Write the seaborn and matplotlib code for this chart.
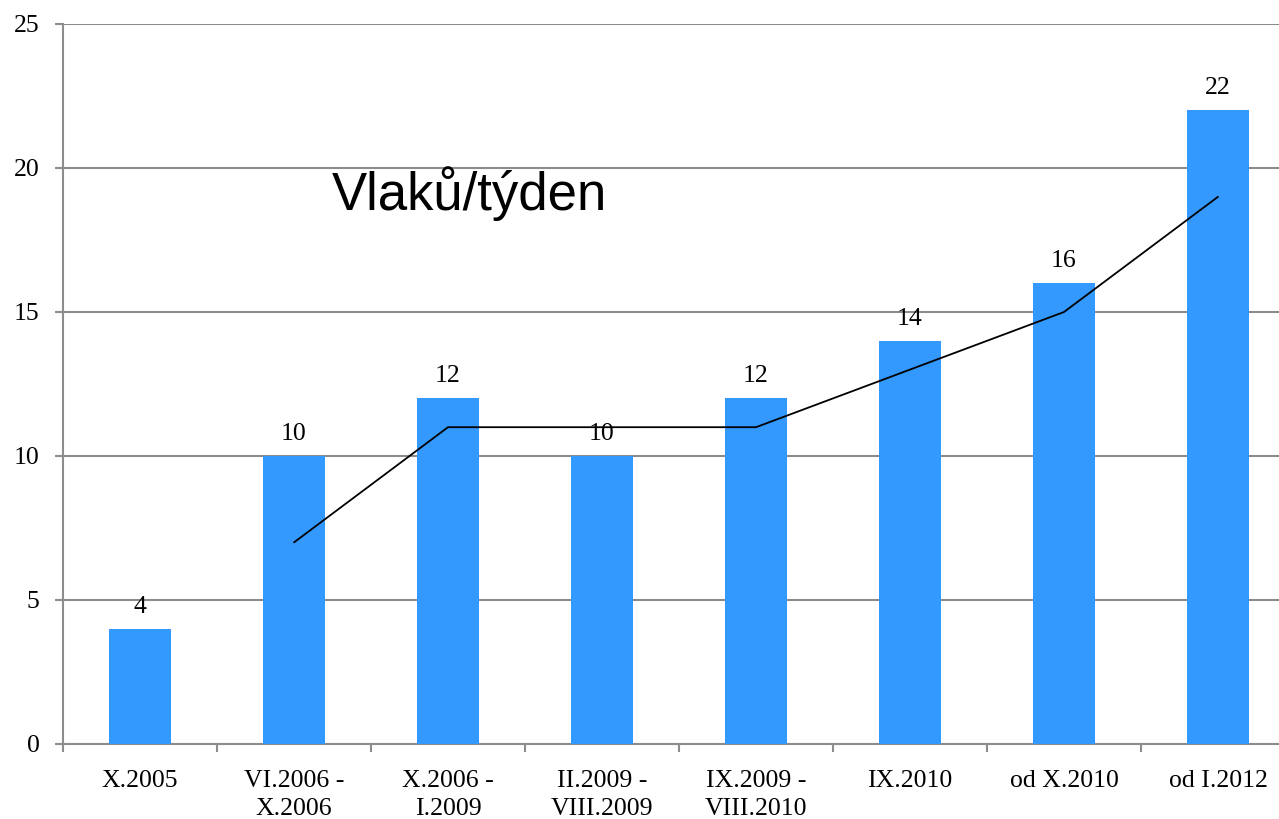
import numpy as np
import pandas as pd
import matplotlib
matplotlib.use('Agg')
import matplotlib.pyplot as plt
import seaborn as sns

# data
periods = ['X.2005', 'VI.2006 -\nX.2006', 'X.2006 -\nI.2009', 'II.2009 -\nVIII.2009',
           'IX.2009 -\nVIII.2010', 'IX.2010', 'od X.2010', 'od I.2012']
trains = [4, 10, 12, 10, 12, 14, 16, 22]
# trend line (2-period average), starts at second period
trend_pos = [1, 2, 3, 4, 5, 6, 7]
trend_vals = [7, 11, 11, 11, 13, 15, 19]

sns.set_style('white')
plt.rcParams['font.family'] = ['Liberation Serif', 'DejaVu Serif']
plt.rcParams['text.color'] = 'black'

fig = plt.figure(figsize=(12.79, 8.19), dpi=100)
# axes run a bit past the right figure edge, as in the original
ax = fig.add_axes([63 / 1279, 75 / 819, 1232 / 1279, 720 / 819])

df = pd.DataFrame({'period': periods, 'trains': trains})
sns.barplot(data=df, x='period', y='trains', color='#3399FF', saturation=1,
            width=0.4, edgecolor='none', linewidth=0, ax=ax, zorder=3)
sns.lineplot(x=trend_pos, y=trend_vals, color='black', linewidth=1.3, ax=ax, zorder=4)

ax.bar_label(ax.containers[0], labels=[str(v) for v in trains], padding=8,
             fontsize=18.5, color='black')

ax.set_ylim(0, 25)
ax.set_xlim(-0.5, 7.5)
ax.set_yticks([0, 5, 10, 15, 20, 25])
ax.yaxis.grid(True, color='#8c8c8c', linewidth=1.5, zorder=0)
ax.set_axisbelow(True)
ax.set_xlabel('')
ax.set_ylabel('')

for s in ['top', 'right']:
    ax.spines[s].set_visible(False)
for s in ['left', 'bottom']:
    ax.spines[s].set_color('#8c8c8c')
    ax.spines[s].set_linewidth(1.5)

ax.tick_params(axis='y', left=True, length=6, width=1.5, color='#8c8c8c', pad=11,
               labelsize=18.5, labelcolor='black')
ax.tick_params(axis='x', which='major', bottom=True, length=0, pad=19,
               labelsize=18.5, labelcolor='black')
for lbl in ax.get_xticklabels():
    lbl.set_linespacing(1.35)
ax.set_xticks(np.arange(-0.5, 8, 1), minor=True)
ax.tick_params(axis='x', which='minor', bottom=True, length=6, width=1.5,
               color='#8c8c8c', direction='out')

fig.text(332 / 1279, 1 - 210 / 819, 'Vlaků/týden', fontsize=38, color='black',
         family=['Liberation Sans', 'DejaVu Sans'], ha='left', va='baseline')

fig.savefig('out.png', dpi=100)
